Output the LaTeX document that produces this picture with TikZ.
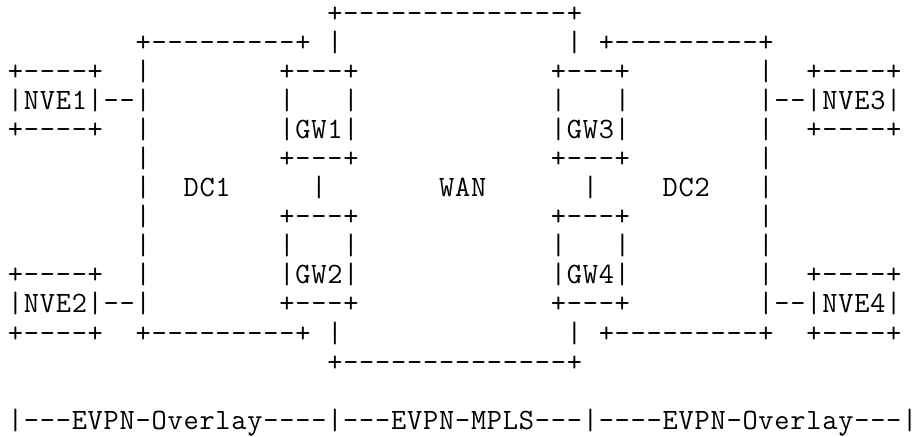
\documentclass[tikz,border=0pt]{standalone}
\newlength\cw
\setlength\cw{15.97pt}
\newcommand\cellchars[1]{\cellsA#1\relax}
\def\cellsA#1{\ifx\relax#1\else\makebox[\cw][c]{#1}\expandafter\cellsA\fi}
\tikzset{ascii/.style={anchor=base west, inner sep=0pt, outer sep=0pt,
  text height=17pt, text depth=3pt,
  font=\fontsize{29.5}{30}\selectfont\ttfamily, text=black}}
\newcommand\seg[4]{\node[ascii] (#1) at ({7.5+15.97*#2},{436-(313+29.05*(#3-11))}) {\cellchars{#4}};}
\begin{document}
\begin{tikzpicture}[x=1pt,y=1pt]
\fill[white] (0,0) rectangle (917,436);
\useasboundingbox (0,0) rectangle (917,436);
% row 1
\seg{wanTop}{20}{1}{+--------------+}
% row 2
\seg{dcOneTop}{8}{2}{+---------+}
\seg{wanLa}{20}{2}{|}
\seg{wanRa}{35}{2}{|}
\seg{dcTwoTop}{37}{2}{+---------+}
% row 3
\seg{nveOneT}{0}{3}{+----+}
\seg{dcOneLc}{8}{3}{|}
\seg{gwOneT}{17}{3}{+---+}
\seg{gwThreeT}{34}{3}{+---+}
\seg{dcTwoRc}{47}{3}{|}
\seg{nveThreeT}{50}{3}{+----+}
% row 4
\seg{nveOne}{0}{4}{|NVE1|--|}
\seg{gwOneLd}{17}{4}{|}
\seg{gwOneRd}{21}{4}{|}
\seg{gwThreeLd}{34}{4}{|}
\seg{gwThreeRd}{38}{4}{|}
\seg{nveThree}{47}{4}{|--|NVE3|}
% row 5
\seg{nveOneB}{0}{5}{+----+}
\seg{dcOneLe}{8}{5}{|}
\seg{gwOne}{17}{5}{|GW1|}
\seg{gwThree}{34}{5}{|GW3|}
\seg{dcTwoRe}{47}{5}{|}
\seg{nveThreeB}{50}{5}{+----+}
% row 6
\seg{dcOneLf}{8}{6}{|}
\seg{gwOneB}{17}{6}{+---+}
\seg{gwThreeB}{34}{6}{+---+}
\seg{dcTwoRf}{47}{6}{|}
% row 7
\seg{dcOneLg}{8}{7}{|}
\seg{dcOne}{11}{7}{DC1}
\seg{linkL}{19}{7}{|}
\seg{wan}{27}{7}{WAN}
\seg{linkR}{36}{7}{|}
\seg{dcTwo}{41}{7}{DC2}
\seg{dcTwoRg}{47}{7}{|}
% row 8
\seg{dcOneLh}{8}{8}{|}
\seg{gwTwoT}{17}{8}{+---+}
\seg{gwFourT}{34}{8}{+---+}
\seg{dcTwoRh}{47}{8}{|}
% row 9
\seg{dcOneLi}{8}{9}{|}
\seg{gwTwoLi}{17}{9}{|}
\seg{gwTwoRi}{21}{9}{|}
\seg{gwFourLi}{34}{9}{|}
\seg{gwFourRi}{38}{9}{|}
\seg{dcTwoRi}{47}{9}{|}
% row 10
\seg{nveTwoT}{0}{10}{+----+}
\seg{dcOneLj}{8}{10}{|}
\seg{gwTwo}{17}{10}{|GW2|}
\seg{gwFour}{34}{10}{|GW4|}
\seg{dcTwoRj}{47}{10}{|}
\seg{nveFourT}{50}{10}{+----+}
% row 11
\seg{nveTwo}{0}{11}{|NVE2|--|}
\seg{gwTwoB}{17}{11}{+---+}
\seg{gwFourB}{34}{11}{+---+}
\seg{nveFour}{47}{11}{|--|NVE4|}
% row 12
\seg{nveTwoB}{0}{12}{+----+}
\seg{dcOneBot}{8}{12}{+---------+}
\seg{wanLl}{20}{12}{|}
\seg{wanRl}{35}{12}{|}
\seg{dcTwoBot}{37}{12}{+---------+}
\seg{nveFourB}{50}{12}{+----+}
% row 13
\seg{wanBot}{20}{13}{+--------------+}
% row 15
\seg{legend}{0}{15}{|---EVPN-Overlay----|---EVPN-MPLS---|----EVPN-Overlay---|}
\end{tikzpicture}
\end{document}
